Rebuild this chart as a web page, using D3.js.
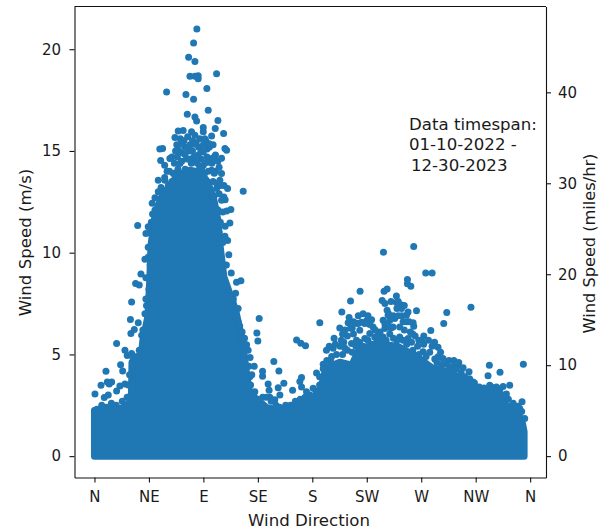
<!DOCTYPE html>
<html><head><meta charset="utf-8">
<script src="https://cdn.jsdelivr.net/npm/d3@7"></script>
<style>html,body{margin:0;background:#fff}svg{display:block}text{font-family:"DejaVu Sans",sans-serif;fill:#1a1a1a}</style>
</head><body><svg id="c" width="599" height="531"></svg>
<script>
const dirTicks=[0,45,90,135,180,225,270,315,360];
const dirLabels=["N","NE","E","SE","S","SW","W","NW","N"];
const speedTicks=[0,5,10,15,20];
const mileTicks=[0,10,20,30,40];
const noteLines=["Data timespan:","01-10-2022 -","12-30-2023"];
const MS_TO_MPH=2.237;
// Overplotted solid mass: upper envelope of the saturated dots
const coreDirs=[0,22.7,28.5,30.6,31,38.4,40,44.2,45.8,46.7,50,54.9,62.3,69,78.9,87.1,93.7,98.7,102,103.6,106.9,116.8,122.6,126,128.4,142.4,157.3,169.7,186.2,191.2,202.7,212.6,219.2,235.8,250.6,267.1,279.5,293.6,307.6,315.9,334.8,339,349.7,353.8,355];
const coreTops=[2.24,2.36,2.56,3.1,4.62,4.77,5.7,6.88,8.85,10.37,11.84,12.68,13.32,13.81,14.05,13.96,13.46,12.58,11.6,10.44,8.82,7.15,5.53,3.91,3.07,2.38,2.2,2.41,3.14,4.32,4.62,4.47,5.31,5.5,5.4,4.86,4.32,4.13,3.64,3.24,3.1,2.56,2.16,1.57,1.2];
// Individually visible dots [direction deg, speed m/s]
const peakPoints=[[84.6,21],[81.9,20.3],[77.8,19.6],[83,19.4],[100.9,18.8],[78.9,18.67],[83,18.67],[85.7,18.7],[85.7,18.55],[92.9,18.07],[59.6,17.9],[75.6,17.77],[81.9,17.54],[94,17],[76.7,16.8],[83,16.67],[84.4,16.47],[102,16.5],[99.8,16.1],[89.9,16.15],[89.9,15.94],[106.7,15.86],[73.3,16],[69.2,15.98],[80.2,15.94],[66.5,15.66],[96.8,15.74],[83,15.77],[91.2,15.6],[94.8,15.36],[82.2,15.33],[72,15.33],[56.3,15.12],[54,15.09],[69.2,15.04],[107.8,15.12],[109.2,15.04],[89.9,14.95],[74.7,14.84],[85.7,14.8],[62.3,14.63],[54.7,14.53],[98.1,14.66],[105,14.64],[83.8,14.58],[92.6,14.43],[70.6,14.38],[96.8,14.05],[105,13.89],[88.5,14.13],[52.7,13.56],[58.2,13.56],[65.1,13.89],[103.6,13.56],[110,13.15],[122.9,13.02],[100.9,13.15],[52.7,12.99],[106.9,12.74],[105,12.58],[47.7,12.43],[54,12.42],[98.7,12.47],[112.7,12.12],[109.2,12.05],[100.9,12.12],[111.9,11.46],[35.7,11.34],[44.4,11.27],[51.9,11.6],[107.8,10.81],[42.5,10.94]];
const peakFillPoints=[[70,15],[75,15.2],[79,15.3],[86,15.2],[93,15.1],[66,14.4],[68.5,14.7],[72,14.5],[76,14.6],[80,14.4],[82,14.7],[88,14.6],[90,14.3],[95,14.6],[62,14],[66,13.9],[69,14.1],[72,13.8],[75,14.1],[84,13.9],[87,14.2],[91,13.9],[94,14],[100,14],[61,13.3],[64,13.5],[67,13.3],[98,13.5],[101,13.4],[56,12.9],[59,13],[62,12.8],[96,13],[99,12.8],[103,12.9],[54,12.2],[57,12.4],[102,12.1],[106,12],[48,11.9],[50,12.1],[104,11.5],[108,11.3],[110,10.6],[103,11],[106,10.5],[111,9.9],[109,9.4],[113,9],[46,11],[48,10.4],[47,11.5],[68,15.3],[71,15.6],[74,15.5],[77,15.7],[81,15.5],[84,15.4],[87,15.6],[92,15.5],[95,15.2],[98,15.3],[100,14.8],[102,14.5],[64,14.7],[67,15],[73,14.9],[78,15],[81,15],[90,15.3],[88,15],[93,14.7],[97,14.4],[103,14.2],[58,14.3],[78,14.6],[85,14.4],[99,13.9],[107,13.3],[108,12.6],[104,13.3],[60,14],[50,12.7],[55,13.2],[58,13.7]];
const riseEdgePoints=[[0.4,3.05],[5.4,3.49],[9.5,4.17],[10.6,3.65],[14.2,3.65],[12.2,3.54],[8.1,2.88],[11.4,3],[18.3,3.2],[21,3.45],[25.2,3.54],[21.6,4.49],[23.3,4.18],[18.3,5.54],[25.2,5.2],[30.7,5.04],[27.1,4.95],[29.7,6.71],[30.7,7.57],[30.1,6.03],[34,8.49],[37,8.41],[38.4,8.95],[42.5,8.77],[36.2,6.55],[32.9,6.22],[39,5.94],[41.7,7],[42.5,7.72],[41.7,9.68],[44.4,9.77],[44.4,10.27],[2,2.3],[6,2.5],[10,2.4],[14,2.6],[18,2.5],[23,2.7],[27,2.9],[28,3.5],[29,4],[32,4.8],[35,4.9],[37,5.2],[40,6.2],[43,7.4],[45,8.2],[46,9.4]];
const fallEdgePoints=[[117.4,8.55],[121,8.62],[116.6,8],[114.6,7.75],[108.6,8.34],[114.6,7.67],[118.7,7.26],[118.7,6.6],[136.1,6.77],[134.2,6.05],[135,5.66],[122.9,5.71],[125.7,5.47],[128.6,4.85],[148.2,4.65],[152.4,4.18],[127.6,4.42],[132,4.42],[138.9,4.17],[138.9,3.93],[128.4,3.9],[125.7,3.65],[143.5,3.54],[144.3,3.24],[132.5,3.16],[151.8,3.36],[153.2,3],[156.5,3.58],[144.9,2.89],[149,2.77],[155.9,2.18],[163.7,3.24],[171.1,3.87],[169.7,3.67],[171.1,3.4],[175.2,3.16],[167,5.71],[170.5,5.55],[174.4,5.42],[167,2.59],[120.1,5.4],[124.3,4.47],[103,10.2],[108,8],[111,7.9],[112,7.2],[117,6.8],[120,6.4],[122,6.1],[124,5.8],[127,5.2],[130,4],[129,3.5],[131,3],[135,2.8],[139,2.9],[142,2.9],[146,2.7],[150,2.5],[153,2.4],[158,2.5],[162,2.5],[166,2.7],[170,2.8],[174,2.9],[178,3],[183,3.2],[187,3.5],[189,3.9]];
const westPoints=[[263.8,10.3],[238.8,10.02],[273.7,9],[279,9],[258.6,8.68],[258.6,8.47],[261.4,8.35],[241.8,8.22],[239.3,8.1],[219.5,8.1],[211.6,7.63],[237.7,7.65],[249.5,7.87],[249.5,7.55],[253.7,7.43],[266.1,7.15],[311.1,7.32],[291.1,7.06],[288.6,6.52],[204.4,7.08],[210.4,6.81],[186.2,6.55],[209.6,6.55],[202.7,6.3],[211.6,6.28],[277.9,6.17],[272.1,5.9],[270.2,5.7],[263.3,6.55],[263.8,6.39],[283.9,5.35],[271.5,5.13],[283.9,4.89],[281.2,4.77],[290.8,4.52],[326.3,4.47],[354.4,4.52],[325.2,3.95],[335.1,4.12],[343.1,3.49],[337.6,3.42],[340.4,3.06],[353.3,2.67],[309.5,4.15],[300.4,4.45],[304.6,4.35],[197.2,5.3],[191.7,5.2],[183.5,4.09],[180.7,3.34],[189,4.52],[216.5,6.53],[220.6,6.58],[224.8,6.65],[227.5,6.47],[217.8,6.52],[223.4,6.52],[230.2,6.35],[219.2,6.19],[227.5,6.03],[231.6,5.86],[223.4,5.78],[212.4,5.54],[216.5,5.7],[238.5,5.86],[239.9,6.27],[238.5,6.68],[241.8,7.17],[244,6.68],[249.9,7.26],[253.7,7.26],[259.1,7.09],[257.8,6.93],[246.7,6.35],[252.2,6.35],[252.2,5.86],[259.1,5.78],[242.6,6.93],[248.1,6.77],[255,6.6],[249.9,5.7],[235.8,5.7],[293.6,4.31],[312.8,3.65],[326.6,3.49],[332.1,3.4],[351.4,2.34],[355.5,1.85],[205,5],[209,5.2],[213,5.1],[216,5.4],[219,5.6],[222,5.4],[226,5.7],[229,5.5],[233,5.6],[236,6.1],[241,5.7],[244,6],[247,5.8],[255,5.7],[258,5.5],[262,5.6],[265,5.9],[267,5.4],[261,6.1],[256,6.2],[245,6.3],[274,4.9],[277,5.1],[268,5],[263,5.2],[200,5],[195,4.7],[206,5.6],[203,5.4],[209,5.9],[214,6],[228,5],[283,4.6],[287,4.5],[296,4.4],[299,4.3],[303,4.1],[306,3.9],[310,3.8],[314,3.6],[318,3.4],[322,3.35],[328,3.4],[335,3.3],[338,3],[342,2.8],[346,2.6],[350,2.45],[353,2.2],[214,6.6],[218,6.9],[222,7],[226,6.9],[229,6.7],[232,6.2],[234,5.9],[213,6.3],[207,6.2],[205,6],[199,5.5],[194,5.4],[240,6.5],[243,6.4],[247,6.9],[251,6.9],[254,6.9],[258,6.6],[263,6],[268,5.7],[272,5.5],[276,5.7],[279,5.4],[281,5.6],[286,5.1],[288,4.8],[293,4.7],[297,4.7],[301,4.6],[240,7.5],[245,7.6],[251,7.6],[256,7.4],[260,6.6],[243,7],[198,5.8],[204,5.7],[207,5.3],[186,3.9],[189,4.3],[192,4.7],[196,4.9],[186,3.5]];

const BLUE="#1f77b4", R=3.5;
const L=74.5,Rt=546,T=6.5,B=477.5, TICK_FONT=15, LABEL_FONT=16.6;
const svg=d3.select("#c");
const x=d3.scaleLinear().domain([-16.5,373.1]).range([L,Rt]);
const y=d3.scaleLinear().domain([-1.05,22.1]).range([B,T]);
const y2=d3.scaleLinear().domain(y.domain().map(v=>v*MS_TO_MPH)).range([B,T]);

const core=coreDirs.map((d,i)=>[d,coreTops[i]]);
svg.append("path").datum(core)
  .attr("d",d3.area().x(d=>x(d[0])).y0(y(0)).y1(d=>y(d[1])))
  .attr("fill",BLUE).attr("stroke",BLUE).attr("stroke-width",2*R).attr("stroke-linejoin","round");
svg.append("g").selectAll("circle")
  .data([...peakFillPoints,...peakPoints,...riseEdgePoints,...fallEdgePoints,...westPoints])
  .join("circle").attr("cx",d=>x(d[0])).attr("cy",d=>y(d[1])).attr("r",R).attr("fill",BLUE);

const style=g=>{g.selectAll("text").attr("font-size",TICK_FONT).style("fill","#1a1a1a");
  g.selectAll("line,path").attr("stroke","#111").attr("stroke-width",1.1);};
svg.append("g").attr("transform",`translate(0,${B})`)
  .call(d3.axisBottom(x).tickValues(dirTicks).tickFormat((d,i)=>dirLabels[i]).tickSize(5).tickPadding(9).tickSizeOuter(0)).call(style);
svg.append("g").attr("transform",`translate(${L},0)`)
  .call(d3.axisLeft(y).tickValues(speedTicks).tickSize(5).tickPadding(8.5).tickSizeOuter(0)).call(style);
svg.append("g").attr("transform",`translate(${Rt},0)`)
  .call(d3.axisRight(y2).tickValues(mileTicks).tickSize(5).tickPadding(7).tickSizeOuter(0)).call(style);
svg.append("line").attr("x1",L).attr("x2",Rt).attr("y1",T).attr("y2",T).attr("stroke","#111").attr("stroke-width",1.1);
svg.selectAll("g .domain").attr("fill","none");

const label=(t,tx,ty,rot,size)=>svg.append("text").text(t).attr("text-anchor","middle").attr("font-size",size||LABEL_FONT)
  .attr("transform",`translate(${tx},${ty})${rot?` rotate(${rot})`:""}`);
label("Wind Direction",309,525.5);
label("Wind Speed (m/s)",30.5,242.5,-90);
label("Wind Speed (miles/hr)",594.5,243.5,-90,16.2);
const noteX=[409,409,411], noteY=[130,150,170.5];
noteLines.forEach((t,i)=>svg.append("text").text(t).attr("x",noteX[i]).attr("y",noteY[i]).attr("font-size",LABEL_FONT));
</script></body></html>
